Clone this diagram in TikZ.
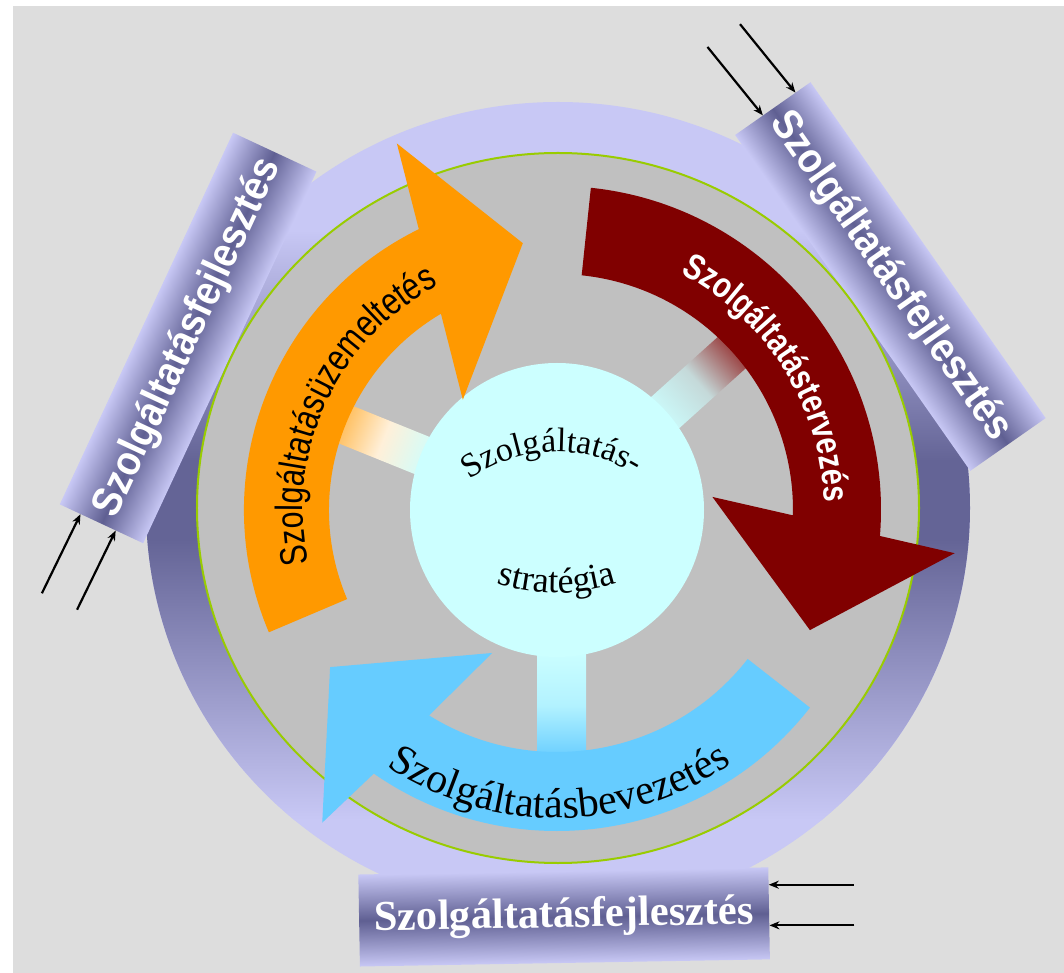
\documentclass[tikz,border=0pt]{standalone}
\usepackage{fontspec}
\setmainfont{Liberation Serif}
\newfontfamily\tabsans{Liberation Sans}[FakeStretch=0.9]
\newfontfamily\arcsans{Liberation Sans}[FakeStretch=0.8]
\usetikzlibrary{calc, arrows.meta, decorations.text}

\definecolor{paper}{HTML}{DDDDDD}
\definecolor{ringLight}{HTML}{C8C8F5}
\definecolor{ringDark}{HTML}{646496}
\definecolor{tabDark}{HTML}{5F5F92}
\definecolor{diskGray}{HTML}{C0C0C0}
\definecolor{rimGreen}{HTML}{99CC00}
\definecolor{hubCyan}{HTML}{CCFFFF}
\definecolor{arrOrange}{HTML}{FF9900}
\definecolor{arrRed}{HTML}{800000}
\definecolor{arrBlue}{HTML}{66CCFF}

\begin{document}
\begin{tikzpicture}[x=1pt, y=1pt, >={Stealth[length=10pt, width=8pt]}]
    % --- Styles ---
    \tikzset{
        tabshade/.style={top color=ringLight, bottom color=ringLight, middle color=tabDark},
        tablabel/.style={minimum width=410pt, minimum height=92pt, inner sep=0pt, text=white},
        sidefont/.style={font=\tabsans\bfseries\fontsize{42}{42}\selectfont},
        feed/.style={line width=2.2pt, ->},
    }
    % --- Definitions ---
    % Center of the cycle at (0,0)
    \def\hubrad{147}

    % --- Canvas ---
    \useasboundingbox (-557,-463) rectangle (507,510);
    \fill[white] (-557,-463) rectangle (507,510);
    \fill[paper] (-544,-463) rectangle (507,504);

    % 1. Outer ring: light at top and bottom, dark band round the middle
    \begin{scope}
        \clip (1,2) ellipse [x radius=412, y radius=406];
        \fill[ringLight] (-420,420) rectangle (420,-420);
        \shade[top color=ringLight, bottom color=ringDark] (-420,280) rectangle (420,49);
        \fill[ringDark] (-420,50) rectangle (420,-30);
        \shade[top color=ringDark, bottom color=ringLight] (-420,-29) rectangle (420,-310);
    \end{scope}

    % 2. The three tabs on the ring
    % the canvas is turned so that each band is shaded across its width
    \begin{scope}[transform canvas={rotate=65}]
        \shade[tabshade] (-205,361) rectangle (205,453);
    \end{scope}
    \begin{scope}[transform canvas={rotate=-55}]
        \shade[tabshade] (-205,361) rectangle (205,453);
    \end{scope}
    \begin{scope}[transform canvas={rotate=1}]
        \shade[tabshade] (-205,-361) rectangle (205,-453);
    \end{scope}
    \node[tablabel, sidefont, rotate=65] (tabL) at (155:407) {Szolgáltatásfejlesztés};
    \node[tablabel, sidefont, rotate=-55] (tabR) at (35:407) {Szolgáltatásfejlesztés};
    \node[tablabel, font=\bfseries\fontsize{42.5}{42.5}\selectfont, rotate=1] (tabB) at (-89:407) {Szolgáltatásfejlesztés};

    % 3. Gray disk with green rim
    \filldraw[fill=diskGray, draw=rimGreen, line width=2pt] (1,2) ellipse [x radius=361, y radius=355];

    % 4. Spokes from the hub to the arrows
    \shade[bottom color=hubCyan, top color=arrOrange!75!white, middle color=white!85!arrOrange, shading angle=68]
        ($(158:130)+(68:20)$) -- ($(158:245)+(68:20)$) -- ($(158:245)+(248:20)$) -- ($(158:130)+(248:20)$) -- cycle;
    \shade[bottom color=hubCyan, top color=arrRed!85!white, middle color=diskGray!60!hubCyan, shading angle=-48]
        ($(42:130)+(132:21)$) -- ($(42:250)+(132:21)$) -- ($(42:250)+(312:21)$) -- ($(42:130)+(312:21)$) -- cycle;
    \shade[top color=hubCyan, bottom color=arrBlue, middle color=hubCyan!75!arrBlue]
        (-20,-140) rectangle (29,-250);

    % 5. Hub
    \fill[hubCyan] (0,0) circle (\hubrad);

    % 6. Cycle arrows (tail arc, head triangle)
    \fill[arrOrange] (203:313) arc[start angle=203, end angle=116.2, radius=313]
        -- (113.6:400) -- (97.3:269) -- (130.5:145) -- (120.6:228)
        arc[start angle=120.6, end angle=203, radius=228] -- cycle;
    \fill[arrRed] (84:324) arc[start angle=84, end angle=-4.6, radius=324]
        -- (-6.2:400) -- (-25.4:280) -- (4.8:156) -- (-1.3:236)
        arc[start angle=-1.3, end angle=84, radius=236] -- cycle;
    \fill[arrBlue] (-38:321) arc[start angle=-38, end angle=-124.8, radius=321]
        -- (-126.9:391) -- (-145.3:276) -- (-114.4:157) -- (-121.9:242)
        arc[start angle=-121.9, end angle=-38, radius=242] -- cycle;

    % --- Labels ---
    \path[decorate, decoration={text along path, text align=center,
        text={|\arcsans\fontsize{38}{38}\selectfont|Szolgáltatásüzemeltetés}}]
        (215:254) arc[start angle=215, end angle=95, radius=254];
    \path[decorate, decoration={text along path, text align=center, text color=white,
        text={|\arcsans\bfseries\fontsize{36}{36}\selectfont|Szolgáltatástervezés}}]
        (75:267) arc[start angle=75, end angle=-11, radius=267];
    \path[decorate, decoration={text along path, text align=center,
        text={|\fontsize{42}{42}\selectfont|Szolgáltatásbevezetés}}]
        (220:308) arc[start angle=220, end angle=321, radius=308];
    \path[decorate, decoration={text along path, text align=center,
        text={|\fontsize{34}{34}\selectfont|Szolgáltatás-}}]
        ($(0,-90)+(152:148)$) arc[start angle=152, end angle=32, radius=148];
    \path[decorate, decoration={text along path, text align=center,
        text={|\fontsize{36}{36}\selectfont|stratégia}}]
        ($(0,111)+(235:194)$) arc[start angle=235, end angle=305, radius=194];

    % --- Inputs to the tabs ---
    \coordinate (tipL1) at ($(tabL.north west)!0.25!(tabL.south west)$);
    \coordinate (tipL2) at ($(tabL.north west)!0.67!(tabL.south west)$);
    \coordinate (srcL1) at ($(tipL1)+(244:88)$);
    \coordinate (srcL2) at ($(tipL2)+(244:88)$);
    \coordinate (tipR1) at ($(tabR.north west)!0.2!(tabR.south west)$);
    \coordinate (tipR2) at ($(tabR.north west)!0.63!(tabR.south west)$);
    \coordinate (srcR1) at ($(tipR1)+(129:88)$);
    \coordinate (srcR2) at ($(tipR2)+(129:88)$);
    \coordinate (tipB1) at ($(tabB.north east)!0.19!(tabB.south east)$);
    \coordinate (tipB2) at ($(tabB.north east)!0.63!(tabB.south east)$);
    \coordinate (srcB1) at ($(tipB1)+(0:85)$);
    \coordinate (srcB2) at ($(tipB2)+(0:85)$);
    \draw[feed] (srcL1) -- (tipL1);
    \draw[feed] (srcL2) -- (tipL2);
    \draw[feed] (srcR1) -- (tipR1);
    \draw[feed] (srcR2) -- (tipR2);
    \draw[feed] (srcB1) -- (tipB1);
    \draw[feed] (srcB2) -- (tipB2);

\end{tikzpicture}
\end{document}
